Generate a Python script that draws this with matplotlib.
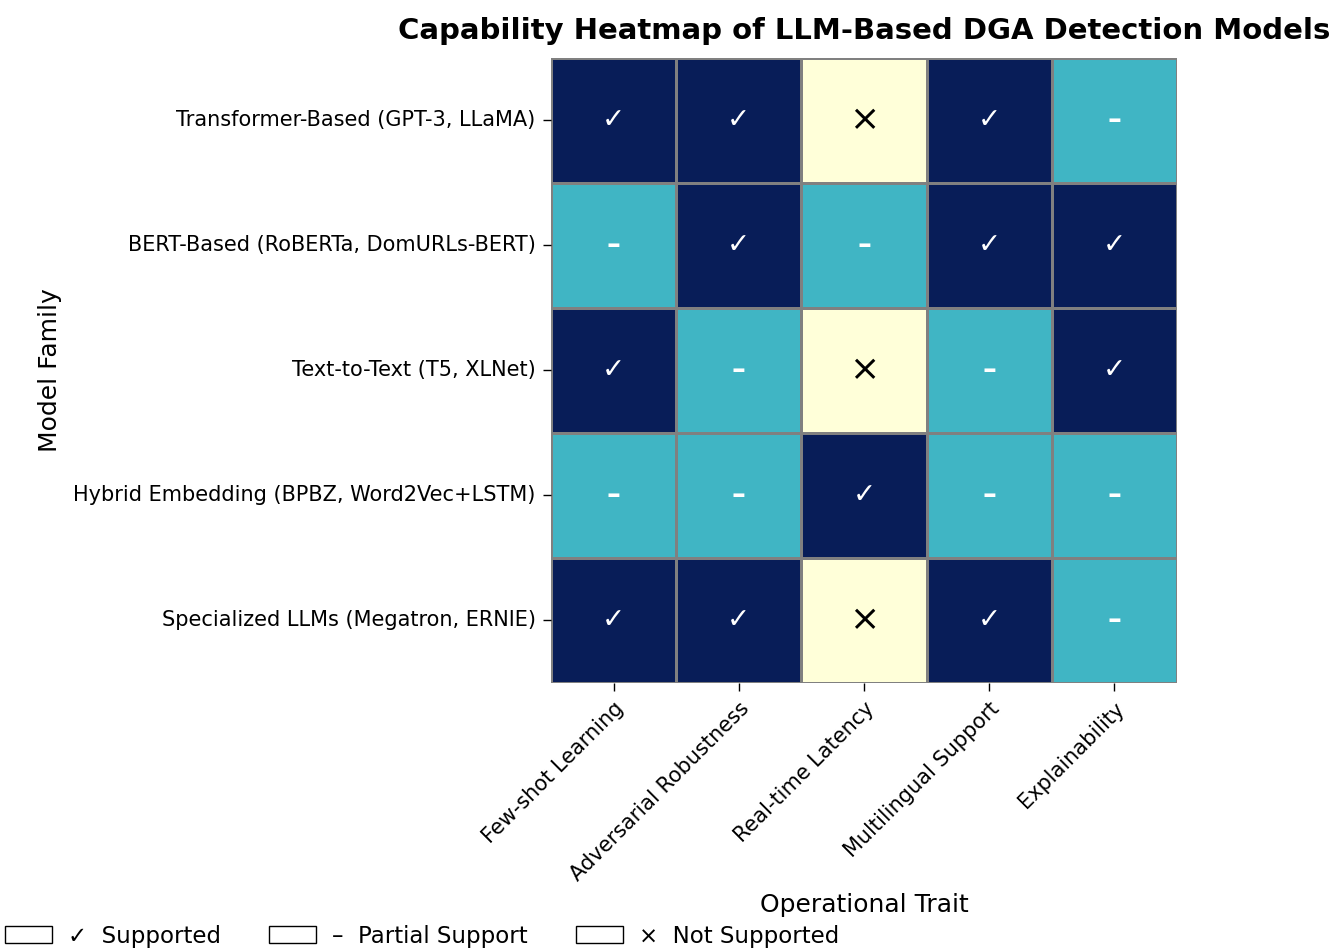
import numpy as np
import matplotlib
matplotlib.use("Agg")
import matplotlib.pyplot as plt
import seaborn as sns
from matplotlib.patches import Patch

models = [
    "Transformer-Based (GPT-3, LLaMA)",
    "BERT-Based (RoBERTa, DomURLs-BERT)",
    "Text-to-Text (T5, XLNet)",
    "Hybrid Embedding (BPBZ, Word2Vec+LSTM)",
    "Specialized LLMs (Megatron, ERNIE)",
]
traits = [
    "Few-shot Learning",
    "Adversarial Robustness",
    "Real-time Latency",
    "Multilingual Support",
    "Explainability",
]
# 2 = supported, 1 = partial, 0 = not supported
scores = [
    [2, 2, 0, 2, 1],
    [1, 2, 1, 2, 2],
    [2, 1, 0, 1, 2],
    [1, 1, 2, 1, 1],
    [2, 2, 0, 2, 1],
]
symbols = {2: "✓", 1: "–", 0: "×"}
legend_labels = ["✓  Supported", "–  Partial Support", "×  Not Supported"]

data = np.array(scores)
annot = np.array([[symbols[v] for v in row] for row in scores])

fig = plt.figure(figsize=(13.38, 9.5), dpi=100)
ax = fig.add_axes([0.4118, 0.2811, 0.4679, 0.6579])
sns.heatmap(data, ax=ax, cmap="YlGnBu", vmin=0, vmax=2, cbar=False,
            linewidths=1, linecolor="gray", annot=False,
            xticklabels=traits, yticklabels=models)
for i in range(data.shape[0]):
    for j in range(data.shape[1]):
        v = data[i, j]
        ax.text(j + 0.5, i + 0.5, annot[i, j], ha="center", va="center",
                color="white" if v > 0 else "black",
                fontsize=26 if v == 0 else 20,
                fontweight="normal" if v == 0 else "bold")

ax.set_xticklabels(traits, rotation=45, ha="right", rotation_mode="anchor", fontsize=15)
ax.set_yticklabels(models, rotation=0, fontsize=15)
ax.tick_params(axis="both", length=6, width=1, pad=5)
ax.set_xlabel("Operational Trait", fontsize=18, labelpad=6)
ax.set_ylabel("Model Family", fontsize=18, labelpad=8)
ax.set_title("Capability Heatmap of LLM-Based DGA Detection Models",
             fontsize=21, fontweight="bold", pad=14)

handles = [Patch(facecolor="white", edgecolor="black") for _ in legend_labels]
fig.legend(handles, legend_labels, loc="lower left", bbox_to_anchor=(0.002, 0.0),
           ncol=3, frameon=False, fontsize=16.5, handlelength=2.05, handleheight=0.75,
           handletextpad=0.7, columnspacing=2.1, borderaxespad=0.0, borderpad=0.1)

fig.savefig("out.png", dpi=100)
